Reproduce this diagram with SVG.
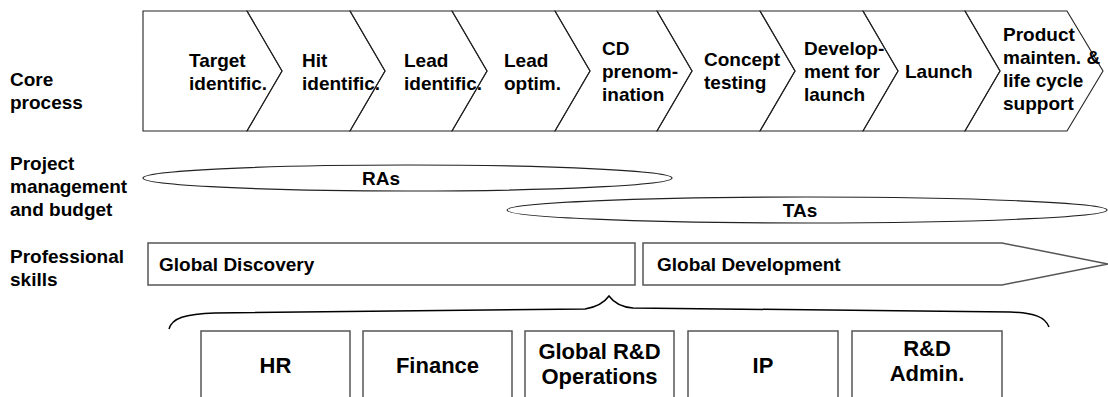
<svg xmlns="http://www.w3.org/2000/svg" width="1108" height="397" viewBox="0 0 1108 397">
<style>
text{font-family:"Liberation Sans",Arial,sans-serif;font-weight:bold;fill:#000}
.t19{font-size:19px}
.t22{font-size:22px}
.chev{fill:none;stroke:#222;stroke-width:1.1}
.box{fill:#fff;stroke:#555;stroke-width:1.5}
.oval{fill:#fff;stroke:#222;stroke-width:1.2}
.mid{text-anchor:middle}
</style>
<rect width="1108" height="397" fill="#fff"/>
<g id="labels" class="t19">
<text x="10" y="86">Core</text><text x="10" y="109">process</text>
<text x="10" y="170">Project</text><text x="10" y="193">management</text><text x="10" y="216">and budget</text>
<text x="10" y="263">Professional</text><text x="10" y="286">skills</text>
</g>
<g id="core-process" class="t19">
<g id="s1"><polygon class="chev" points="143,11 247,11 282,71 247,131 143,131"/><text x="189" y="67">Target</text><text x="189" y="90">identific.</text></g>
<g id="s2"><polygon class="chev" points="247,11 350,11 385,71 350,131 247,131 282,71"/><text x="302" y="67">Hit</text><text x="302" y="90">identific.</text></g>
<g id="s3"><polygon class="chev" points="350,11 452,11 487,71 452,131 350,131 385,71"/><text x="404" y="67">Lead</text><text x="404" y="90">identific.</text></g>
<g id="s4"><polygon class="chev" points="452,11 555,11 590,71 555,131 452,131 487,71"/><text x="504" y="67">Lead</text><text x="504" y="90">optim.</text></g>
<g id="s5"><polygon class="chev" points="555,11 657,11 692,71 657,131 555,131 590,71"/><text x="602" y="55">CD</text><text x="602" y="78">prenom-</text><text x="602" y="101">ination</text></g>
<g id="s6"><polygon class="chev" points="657,11 760,11 795,71 760,131 657,131 692,71"/><text x="704" y="66">Concept</text><text x="704" y="89">testing</text></g>
<g id="s7"><polygon class="chev" points="760,11 863,11 898,71 863,131 760,131 795,71"/><text x="804" y="55">Develop-</text><text x="804" y="78">ment for</text><text x="804" y="101">launch</text></g>
<g id="s8"><polygon class="chev" points="863,11 965,11 1000,71 965,131 863,131 898,71"/><text x="905" y="78">Launch</text></g>
<g id="s9"><polygon class="chev" points="965,11 1067,11 1103,71 1067,131 965,131 1000,71"/><text x="1003" y="41">Product</text><text x="1003" y="64">mainten. &amp;</text><text x="1003" y="87">life cycle</text><text x="1003" y="110">support</text></g>
</g>
<g id="RAs"><ellipse class="oval" cx="407.5" cy="178" rx="264.5" ry="13"/><text class="t19 mid" x="381" y="185">RAs</text></g>
<g id="TAs"><ellipse class="oval" cx="807" cy="210" rx="300" ry="13"/><text class="t19 mid" x="800" y="217">TAs</text></g>
<g id="global-discovery"><rect class="box" x="148" y="243" width="487" height="42"/><text class="t19" x="159" y="271">Global Discovery</text></g>
<g id="global-development"><polygon class="box" points="643,243 1002,243 1108,264 1002,285 643,285"/><text class="t19" x="657" y="271">Global Development</text></g>
<g id="connectors"><path d="M169,329 C172,318 185,314 215,313 L585,309 C597,307 604,303 609,296 C614,303 621,307 633,308 L1010,312 C1035,313 1045,317 1049,327" fill="none" stroke="#000" stroke-width="1.5"/></g>
<g id="hr"><rect class="box" x="201" y="331" width="149" height="80"/><text class="t22 mid" x="275.5" y="373">HR</text></g>
<g id="finance"><rect class="box" x="363" y="331" width="149" height="80"/><text class="t22 mid" x="437.5" y="373">Finance</text></g>
<g id="ops"><rect class="box" x="525" y="331" width="149" height="80"/><text class="t22 mid" x="599.5" y="359">Global R&amp;D</text><text class="t22 mid" x="599.5" y="384">Operations</text></g>
<g id="ip"><rect class="box" x="688" y="331" width="150" height="80"/><text class="t22 mid" x="763" y="373">IP</text></g>
<g id="admin"><rect class="box" x="852" y="331" width="150" height="80"/><text class="t22 mid" x="927" y="356">R&amp;D</text><text class="t22 mid" x="927" y="381">Admin.</text></g>
</svg>
